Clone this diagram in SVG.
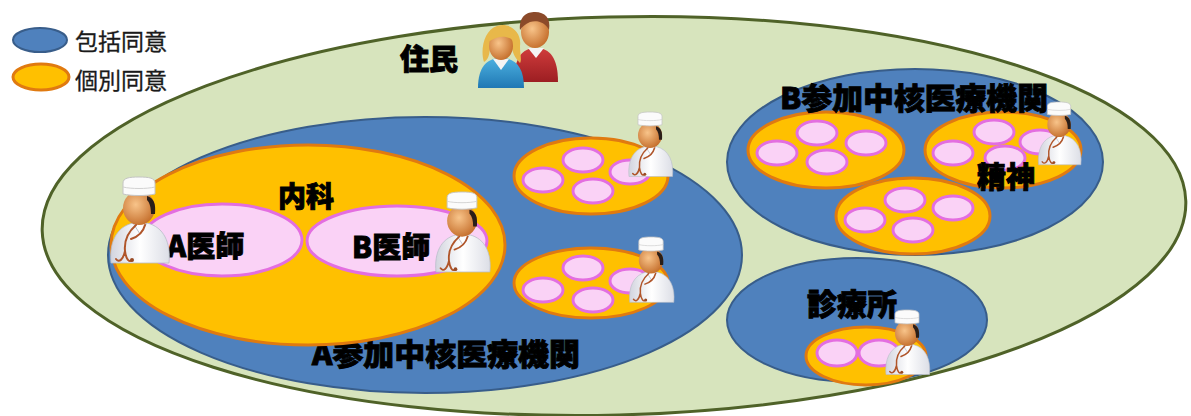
<svg xmlns="http://www.w3.org/2000/svg" width="1191" height="416" viewBox="0 0 1191 416">
  <style>
    .scope { fill: #d7e4bd; stroke: #4f6228; stroke-width: 3; }
    .blanket { fill: #4f81bd; stroke: #385d8a; stroke-width: 2; }
    .indiv { fill: #ffc000; stroke: #e07a10; stroke-width: 3; }
    .doc-ov { fill: #fad2f6; stroke: #e36ee0; stroke-width: 3; }
    .label { font-family: "Noto Sans CJK JP", "Noto Sans", sans-serif; font-weight: 900; fill: #000; stroke: #000; stroke-width: 0.9; }
    .legend { font-family: "Noto Sans CJK JP", "Noto Sans", sans-serif; font-size: 23px; fill: #1a1a1a; stroke: #1a1a1a; stroke-width: 0.3; }
  </style>
  <defs>
    <radialGradient id="skin" cx="40%" cy="40%" r="65%">
      <stop offset="0" stop-color="#f8c48a"/>
      <stop offset="1" stop-color="#c46d2a"/>
    </radialGradient>
    <linearGradient id="coat" x1="0" y1="0" x2="1" y2="0">
      <stop offset="0" stop-color="#d2d4de"/>
      <stop offset="0.5" stop-color="#ffffff"/>
      <stop offset="1" stop-color="#dcdee6"/>
    </linearGradient>
    <linearGradient id="shirtBlue" x1="0" y1="0" x2="0" y2="1">
      <stop offset="0" stop-color="#4cb0e0"/>
      <stop offset="1" stop-color="#1f78b4"/>
    </linearGradient>
    <linearGradient id="shirtRed" x1="0" y1="0" x2="0" y2="1">
      <stop offset="0" stop-color="#d03c3c"/>
      <stop offset="1" stop-color="#9c1e22"/>
    </linearGradient>
    <!-- doctor figure, origin at the top centre of the cap -->
    <g id="doctor">
      <path d="M-28,86 C-30,66 -23,50 -6,46 L8,46 C25,50 32,66 30,86 Z" fill="url(#coat)" stroke="#b8bcc8" stroke-width="0.8"/>
      <path d="M-6,46 L1,57 L8,46" fill="none" stroke="#b9bcc8" stroke-width="1"/>
      <ellipse cx="0" cy="31" rx="16" ry="17" fill="url(#skin)"/>
      <path d="M8,19 C15,21 17,27 16,37 L12,37 C12,31 11,26 8,23 Z" fill="#2a1e18"/>
      <path d="M-16,17 L-16,6 C-16,1 -10,0 0,0 C10,0 16,1 16,6 L16,17 C8,19 -8,19 -16,17 Z" fill="#fbfbfb" stroke="#c4c4c4" stroke-width="1"/>
      <path d="M-16,10 C-8,12 8,12 16,10" fill="none" stroke="#d2d2d2" stroke-width="1"/>
      <path d="M-3,48 C-11,55 -15,64 -14,74 C-13,82 -10,86 -7,83 M-14,74 C-16,83 -20,86 -23,82 M6,48 C4,56 -2,60 -8,62" fill="none" stroke="#b0552a" stroke-width="2" stroke-linecap="round"/>
      <circle cx="-7" cy="83" r="2" fill="#9a4a24"/>
    </g>
  </defs>

  <!-- legend -->
  <g id="legend">
    <ellipse cx="40" cy="40" rx="27" ry="12" class="blanket"/>
    <text x="75" y="50" class="legend">包括同意</text>
    <ellipse cx="41" cy="77" rx="28" ry="13" class="indiv"/>
    <text x="75" y="89" class="legend">個別同意</text>
  </g>

  <!-- residents -->
  <g id="residents">
    <ellipse cx="614" cy="216" rx="572" ry="199" class="scope" transform="rotate(-1.5 614 216)"/>
    <text x="400" y="70" class="label" font-size="29">住民</text>
    <g id="people">
      <path d="M514,82 C514,58 522,48 536,48 C550,48 558,58 558,82 Z" fill="url(#shirtRed)"/>
      <path d="M528,48 L536,58 L544,48 Z" fill="#f4f4f4"/>
      <ellipse cx="535" cy="32" rx="14" ry="16" fill="url(#skin)"/>
      <path d="M520,30 C519,16 527,12 535,12 C545,12 551,18 549,30 C545,22 537,20 530,22 C525,24 522,27 520,30 Z" fill="#8b4a2a"/>
      <path d="M478,88 C478,68 486,58 501,58 C516,58 524,68 524,88 Z" fill="url(#shirtBlue)"/>
      <path d="M493,59 L501,70 L509,59 Z" fill="#f4f4f4"/>
      <path d="M484,62 C480,50 484,30 497,26 C510,22 522,32 520,46 C520,54 522,60 520,63 C515,58 512,52 512,46 L490,46 C490,54 488,60 484,62 Z" fill="#e8b84a"/>
      <ellipse cx="501" cy="46" rx="12" ry="14" fill="url(#skin)"/>
      <path d="M488,42 C490,30 498,27 506,29 C512,31 515,36 515,42 C509,36 500,34 488,42 Z" fill="#e8b84a"/>
    </g>
  </g>

  <!-- A core hospital -->
  <g id="hospitalA">
    <ellipse cx="425" cy="255" rx="317" ry="138" class="blanket"/>
    <text x="312" y="365" class="label" font-size="30" textLength="268" lengthAdjust="spacingAndGlyphs">A参加中核医療機関</text>
  </g>

  <!-- internal medicine department -->
  <g id="internalMedicine">
    <ellipse cx="308" cy="245" rx="197" ry="100" class="indiv"/>
    <text x="278" y="207" class="label" font-size="28">内科</text>
  </g>

  <g id="doctorA">
    <ellipse cx="222" cy="240" rx="80" ry="36" class="doc-ov"/>
    <text x="167" y="257" class="label" font-size="29">A医師</text>
    <use href="#doctor" transform="translate(139,177)"/>
  </g>

  <g id="doctorB">
    <ellipse cx="397" cy="241" rx="90" ry="35" class="doc-ov"/>
    <text x="352" y="258" class="label" font-size="29">B医師</text>
    <use href="#doctor" transform="translate(462,192) scale(0.93)"/>
  </g>

  <g id="deptA2">
    <ellipse cx="591" cy="176" rx="77" ry="38" class="indiv"/>
    <ellipse cx="583" cy="160" rx="20" ry="12" class="doc-ov"/>
    <ellipse cx="543" cy="180" rx="20" ry="12" class="doc-ov"/>
    <ellipse cx="593" cy="191" rx="20" ry="12" class="doc-ov"/>
    <ellipse cx="630" cy="172" rx="20" ry="12" class="doc-ov"/>
    <use href="#doctor" transform="translate(650,112) scale(0.75)"/>
  </g>

  <g id="deptA3">
    <ellipse cx="591" cy="283" rx="77" ry="35" class="indiv"/>
    <ellipse cx="583" cy="268" rx="20" ry="12" class="doc-ov"/>
    <ellipse cx="543" cy="290" rx="20" ry="12" class="doc-ov"/>
    <ellipse cx="593" cy="300" rx="20" ry="12" class="doc-ov"/>
    <ellipse cx="630" cy="281" rx="20" ry="12" class="doc-ov"/>
    <use href="#doctor" transform="translate(651,237) scale(0.76)"/>
  </g>

  <!-- B core hospital -->
  <g id="hospitalB">
    <ellipse cx="915" cy="162" rx="188" ry="93" class="blanket"/>
  </g>

  <g id="deptB1">
    <ellipse cx="826" cy="150" rx="78" ry="38" class="indiv"/>
    <ellipse cx="817" cy="133" rx="20" ry="12" class="doc-ov"/>
    <ellipse cx="777" cy="153" rx="20" ry="12" class="doc-ov"/>
    <ellipse cx="827" cy="162" rx="20" ry="12" class="doc-ov"/>
    <ellipse cx="866" cy="143" rx="20" ry="12" class="doc-ov"/>
  </g>

  <g id="deptB3">
    <ellipse cx="913" cy="216" rx="77" ry="38" class="indiv"/>
    <ellipse cx="905" cy="200" rx="20" ry="12" class="doc-ov"/>
    <ellipse cx="865" cy="220" rx="20" ry="12" class="doc-ov"/>
    <ellipse cx="953" cy="208" rx="20" ry="12" class="doc-ov"/>
    <ellipse cx="913" cy="230" rx="20" ry="12" class="doc-ov"/>
  </g>

  <g id="psychiatry">
    <ellipse cx="1003" cy="150" rx="78" ry="38" class="indiv"/>
    <ellipse cx="994" cy="132" rx="20" ry="12" class="doc-ov"/>
    <ellipse cx="953" cy="153" rx="20" ry="12" class="doc-ov"/>
    <ellipse cx="1005" cy="158" rx="20" ry="12" class="doc-ov"/>
    <ellipse cx="1040" cy="142" rx="20" ry="12" class="doc-ov"/>
    <text x="977" y="188" class="label" font-size="29">精神</text>
    <use href="#doctor" transform="translate(1059,102) scale(0.73)"/>
  </g>

  <g id="hospitalBLabel">
    <text x="780" y="109" class="label" font-size="30" textLength="268" lengthAdjust="spacingAndGlyphs">B参加中核医療機関</text>
  </g>

  <!-- clinic -->
  <g id="clinic">
    <ellipse cx="857" cy="320" rx="130" ry="62" class="blanket"/>
    <ellipse cx="866" cy="356" rx="60" ry="29" class="indiv"/>
    <ellipse cx="837" cy="353" rx="20" ry="13" class="doc-ov"/>
    <ellipse cx="879" cy="353" rx="20" ry="13" class="doc-ov"/>
    <text x="807" y="315" class="label" font-size="30">診療所</text>
    <use href="#doctor" transform="translate(907,310) scale(0.75)"/>
  </g>

  <g id="connectors"></g>
</svg>
